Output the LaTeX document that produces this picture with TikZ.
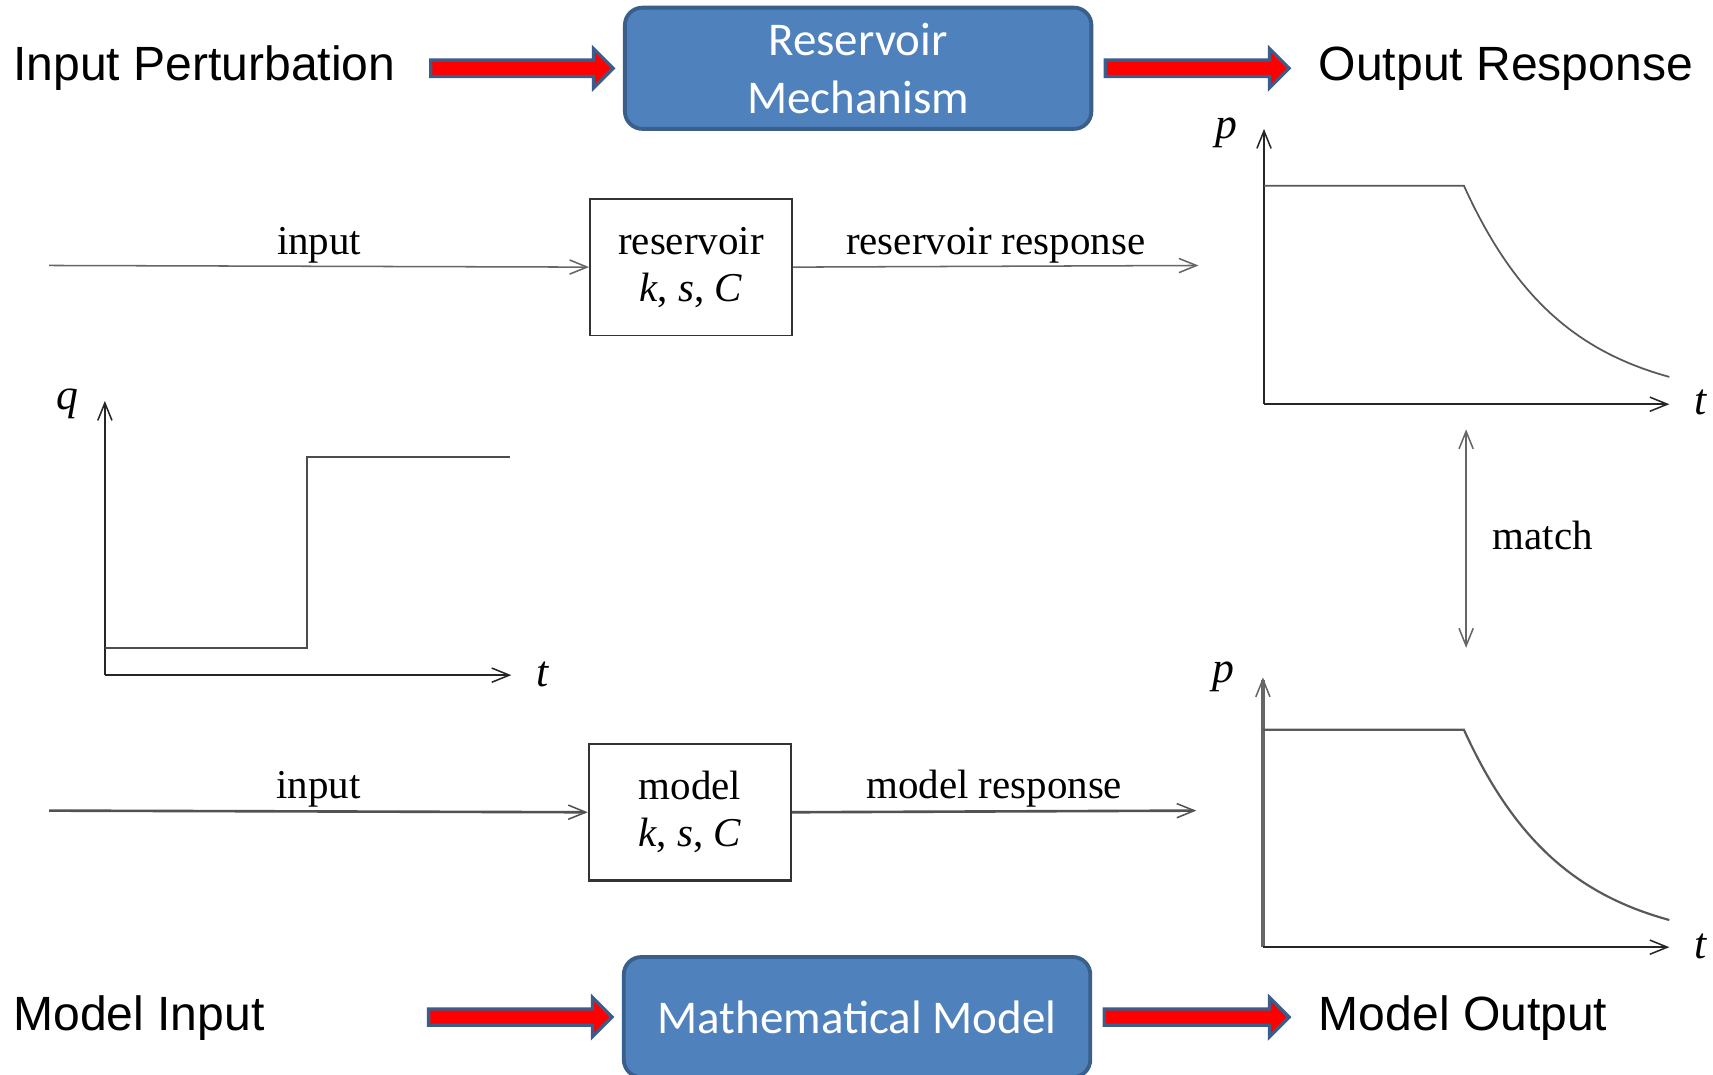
\documentclass[tikz,border=0pt]{standalone}
\usepackage{fontspec}
\setmainfont{Liberation Serif}
\newfontfamily\arialf{Liberation Sans}
\newfontfamily\calibrif{Carlito}
\usetikzlibrary{arrows.meta,calc}

\definecolor{boxfill}{HTML}{4F81BD}
\definecolor{boxedge}{HTML}{3A5F8B}
\definecolor{arrowedge}{HTML}{3B5D8C}
\definecolor{arrowred}{HTML}{FF0000}

% thick red block arrow with a blue outline, between two named coordinates
\newcommand\blockarrow[2]{%
  \filldraw[blockarr] ($(#1)+(0,-7.5)$) -- ($(#2)+(-18,-7.5)$) -- ($(#2)+(-18,-18)$)
    -- (#2) -- ($(#2)+(-18,18)$) -- ($(#2)+(-18,7.5)$) -- ($(#1)+(0,7.5)$) -- cycle;}

\begin{document}
\begin{tikzpicture}[x=1pt,y=-1pt,
  title/.style={font=\arialf\fontsize{44}{50}\selectfont, inner sep=0pt},
  bluebox/.style={draw=boxedge, fill=boxfill, line width=3.5pt, rounded corners=16pt,
    text=white, font=\calibrif\fontsize{43}{53}\selectfont, align=center,
    minimum width=427pt, inner sep=0pt},
  blockarr/.style={fill=arrowred, draw=arrowedge, line width=3pt, line join=miter},
  scanbox/.style={draw=black!80, line width=1.6pt, minimum width=185pt, minimum height=125pt,
    align=center, font=\fontsize{37.5}{43}\selectfont, inner sep=0pt},
  scanlabel/.style={font=\fontsize{37.5}{43}\selectfont, inner sep=0pt},
  varlabel/.style={font=\fontsize{40}{44}\selectfont\itshape, inner sep=0pt},
  barb/.style={-{Straight Barb[length=16pt,width=13pt,line width=1.4pt]}},
  topline/.style={draw=black!60, line width=1.4pt},
  botline/.style={draw=black!68, line width=2.4pt},
  axisline/.style={draw=black!85, line width=2pt},
  curveline/.style={draw=black!65, line width=1.6pt},
]
\fill[white] (0,0) rectangle (1568,984);
\useasboundingbox (0,0) rectangle (1568,984);

% ---------- top band: physical system ----------
\node[title, anchor=base west] (inpert) at (12,74) {Input Perturbation};
\node[bluebox, minimum height=111pt] (resmech) at (785.5,62.5) {Reservoir\\Mechanism};
\node[title, anchor=base west] (outresp) at (1207,74) {Output Response};
\coordinate (a1s) at ($(inpert.east |- resmech.west)+(32,0)$);
\coordinate (a1e) at ($(resmech.west)+(-9,0)$);
\blockarrow{a1s}{a1e}
\coordinate (a2s) at ($(resmech.east)+(11,0)$);
\coordinate (a2e) at ($(outresp.west |- resmech.east)+(-27,0)$);
\blockarrow{a2s}{a2e}

% ---------- reservoir chain ----------
\node[scanbox] (rbox) at (632.5,244.5) {reservoir\\\textit{k}, \textit{s}, \textit{C}};
\coordinate (rin) at (45,243);
\coordinate (rout) at (1097,243);
\draw[topline, barb] (rin) -- (rbox.west)
  node[scanlabel, midway, anchor=base, yshift=11pt] (rinlbl) {input};
\draw[topline, barb] (rbox.east) -- (rout)
  node[scanlabel, midway, anchor=base, yshift=11pt] (routlbl) {reservoir response};

% ---------- measured pressure response ----------
\coordinate (o1) at (1157,370);
\coordinate (p1top) at (1157,118);
\coordinate (t1end) at (1528,370);
\draw[axisline, barb] (o1) -- (p1top);
\draw[axisline, barb] (o1) -- (t1end);
\node[varlabel] (p1) at (1123,122) {p};
\node[varlabel] (t1) at (1557,368) {t};
\draw[curveline] (1157,170) -- (1340,170)
  -- plot[domain=0:188, samples=60, smooth] ({1340+\x},{370-200*exp(-\x/90.4)});

% ---------- match ----------
\coordinate (m1) at (1342,393);
\coordinate (m2) at (1342,593);
\draw[topline, {Straight Barb[length=16pt,width=13pt,line width=1.4pt]}-{Straight Barb[length=16pt,width=13pt,line width=1.4pt]}] (m1) -- (m2);
\node[scanlabel, anchor=west] (matchlbl) at (1366,490) {match};

% ---------- step input rate ----------
\coordinate (o0) at (96,618);
\coordinate (q0top) at (96,367);
\coordinate (t0end) at (468,618);
\draw[axisline, line width=2.4pt, barb] (o0) -- (q0top);
\draw[axisline, line width=2.4pt, barb] (o0) -- (t0end);
\draw[draw=black!70, line width=2pt] (96,593) -- (281,593) -- (281,418) -- (467,418);
\node[varlabel] (q0) at (62,370) {q};
\node[varlabel] (t0) at (497,617) {t};

% ---------- model chain ----------
\node[scanbox, line width=2pt] (mbox) at (631.5,743.5) {model\\\textit{k}, \textit{s}, \textit{C}};
\coordinate (min) at (45,742);
\coordinate (mout) at (1095,742);
\draw[botline, barb] (min) -- (mbox.west)
  node[scanlabel, midway, anchor=base, yshift=12pt] (minlbl) {input};
\draw[botline, barb] (mbox.east) -- (mout)
  node[scanlabel, midway, anchor=base, yshift=12pt] (moutlbl) {model response};

% ---------- model pressure response ----------
\coordinate (o2) at (1156,867);
\coordinate (p2top) at (1156,620);
\coordinate (t2end) at (1528,867);
\draw[axisline, draw=black!60, line width=3pt, barb] (o2) -- (p2top);
\draw[axisline, line width=2.4pt, barb] (o2) -- (t2end);
\node[varlabel] (p2) at (1120,620) {p};
\node[varlabel] (t2) at (1557,866) {t};
\draw[curveline, line width=2pt] (1156,668) -- (1340,668)
  -- plot[domain=0:188, samples=60, smooth] ({1340+\x},{867-199*exp(-\x/90.4)});

% ---------- bottom band: model ----------
\node[title, anchor=base west] (modin) at (12,943) {Model Input};
\node[bluebox, minimum height=110pt] (mathmod) at (784.5,931) {Mathematical Model};
\node[title, anchor=base west] (modout) at (1207,943) {Model Output};
\coordinate (b1s) at ($(modin.east |- mathmod.west)+(150,0)$);
\coordinate (b1e) at ($(mathmod.west)+(-9,0)$);
\blockarrow{b1s}{b1e}
\coordinate (b2s) at ($(mathmod.east)+(11,0)$);
\coordinate (b2e) at ($(modout.west |- mathmod.east)+(-27,0)$);
\blockarrow{b2s}{b2e}
\end{tikzpicture}
\end{document}
